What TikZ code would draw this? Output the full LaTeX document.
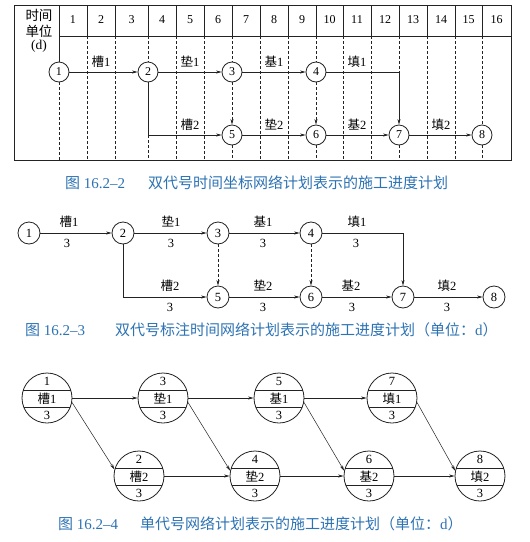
\documentclass[tikz,border=0pt]{standalone}
\usepackage{fontspec}
\setmainfont{Liberation Serif}
\newfontfamily\cjk{Noto Sans CJK SC}
\usetikzlibrary{arrows.meta,calc}
\newcommand\zh[1]{{\cjk #1}}
\definecolor{capblue}{RGB}{45,115,180}
\definecolor{ink}{RGB}{35,35,35}
\tikzset{
  ev/.style={circle,draw=ink,line width=0.8pt,minimum size=20pt,inner sep=0pt,font=\fontsize{12}{12}\selectfont},
  mev/.style={circle,draw=ink,line width=0.8pt,minimum size=22pt,inner sep=0pt,font=\fontsize{12.5}{12.5}\selectfont},
  opc/.style={circle,draw=ink,line width=0.8pt,minimum size=50pt,inner sep=0pt},
  chord/.style={draw=ink,line width=0.6pt},
  optxt/.style={inner sep=0pt,font=\fontsize{12.5}{12.5}\selectfont},
  arr/.style={draw=ink,line width=0.5pt,-{Stealth[length=5.5pt,width=3pt]}},
  pln/.style={draw=ink,line width=0.5pt},
  dsh/.style={draw=ink,line width=0.5pt,dash pattern=on 3pt off 2pt},
  lbl/.style={inner sep=0pt,font=\fontsize{12.5}{12.5}\selectfont},
  hdr/.style={inner sep=0pt,font=\fontsize{13.5}{13.5}\selectfont},
  hnum/.style={inner sep=0pt,font=\fontsize{12}{12}\selectfont},
  captxt/.style={inner sep=0pt,anchor=west,text=capblue,font=\fontsize{15}{15}\selectfont},
}
\newcommand\opnode[6]{%
  \node[opc] (#1) at (#2,#3) {};
  \draw[chord] ($(#1.center)+(-23.7,-8)$) -- ($(#1.center)+(23.7,-8)$);
  \draw[chord] ($(#1.center)+(-23.1,9.5)$) -- ($(#1.center)+(23.1,9.5)$);
  \node[optxt] (#1-t) at ($(#1.center)+(0,-17)$) {#4};
  \node[optxt] (#1-m) at ($(#1.center)+(0,1)$) {#5};
  \node[optxt] (#1-b) at ($(#1.center)+(0,17)$) {#6};
}
\begin{document}
\begin{tikzpicture}[x=1pt,y=-1pt]
\useasboundingbox (0,0) rectangle (530,542);
\fill[white] (0,0) rectangle (530,542);

% ---------- Figure 16.2-2 : time-scaled grid ----------
\draw[draw=ink,line width=0.9pt] (14,5) rectangle (511,160);
\draw[pln] (59,36) -- (511,36);
\foreach \x in {59,87,115,148,176,204,232,260,288,316,343,371,399,427,455,482}
  \draw[pln] (\x,5) -- (\x,36);
\foreach \a/\b [count=\i] in {59/87,87/115,115/148,148/176,176/204,204/232,232/260,260/288,288/316,316/343,343/371,371/399,399/427,427/455,455/482,482/511}
  \node[hnum] (h\i) at ({(\a+\b)/2},20) {\i};
\node[hdr] (hd1) at (39,15) {\zh{时间}};
\node[hdr] (hd2) at (39,31) {\zh{单位}};
\node[hdr] (hd3) at (39,46) {(d)};
% plain dashed grid columns
\foreach \x in {87,115,176,204,260,288,343,371,427,455}
  \draw[dsh] (\x,36) -- (\x,160);
% event nodes
\node[ev] (t1) at (59,72) {1};
\node[ev] (t2) at (148,72) {2};
\node[ev] (t3) at (232,72) {3};
\node[ev] (t4) at (316,72) {4};
\node[ev] (t5) at (232,135) {5};
\node[ev] (t6) at (316,135) {6};
\node[ev] (t7) at (399,135) {7};
\node[ev] (t8) at (482,135) {8};
% grid lines through event columns
\draw[pln] (59,36) -- (t1.north);
\draw[dsh] (t1.south) -- (59,160);
\draw[dsh] (148,36) -- (t2.north);
\draw[dsh] (148,135) -- (148,160);
\draw[dsh] (232,36) -- (t3.north);
\draw[dsh] (t5.south) -- (232,160);
\draw[dsh] (316,36) -- (t4.north);
\draw[dsh] (t6.south) -- (316,160);
\draw[dsh] (399,36) -- (399,72);
\draw[dsh] (t7.south) -- (399,160);
\draw[dsh] (482,36) -- (t8.north);
\draw[dsh] (t8.south) -- (482,160);
% activities
\draw[arr] (t1) -- (t2);
\draw[arr] (t2) -- (t3);
\draw[arr] (t3) -- (t4);
\draw[arr] (t4) -| (t7);
\draw[arr] (t2) |- (t5);
\draw[arr,dash pattern=on 3pt off 2pt] (t3) -- (t5);
\draw[arr,dash pattern=on 3pt off 2pt] (t4) -- (t6);
\draw[arr] (t5) -- (t6);
\draw[arr] (t6) -- (t7);
\draw[arr] (t7) -- (t8);
\node[lbl] (tl1) at (101,62) {\zh{槽}1};
\node[lbl] (tl2) at (190,62) {\zh{垫}1};
\node[lbl] (tl3) at (274,62) {\zh{基}1};
\node[lbl] (tl4) at (357,62) {\zh{填}1};
\node[lbl] (tl5) at (190,125) {\zh{槽}2};
\node[lbl] (tl6) at (274,125) {\zh{垫}2};
\node[lbl] (tl7) at (357,125) {\zh{基}2};
\node[lbl] (tl8) at (441,125) {\zh{填}2};

\node[captxt] (c1a) at (65,183) {\zh{图} 16.2–2};
\node[captxt] (c1b) at (148,183) {\zh{双代号时间坐标网络计划表示的施工进度计划}};

% ---------- Figure 16.2-3 ----------
\node[mev] (m1) at (29,233) {1};
\node[mev] (m2) at (123,233) {2};
\node[mev] (m3) at (218,233) {3};
\node[mev] (m4) at (311,233) {4};
\node[mev] (m5) at (218,297) {5};
\node[mev] (m6) at (311,297) {6};
\node[mev] (m7) at (403,297) {7};
\node[mev] (m8) at (494,297) {8};
\draw[arr] (m1) -- (m2);
\draw[arr] (m2) -- (m3);
\draw[arr] (m3) -- (m4);
\draw[arr] (m4) -| (m7);
\draw[arr] (m2) |- (m5);
\draw[arr,dash pattern=on 3pt off 2pt] (m3) -- (m5);
\draw[arr,dash pattern=on 3pt off 2pt] (m4) -- (m6);
\draw[arr] (m5) -- (m6);
\draw[arr] (m6) -- (m7);
\draw[arr] (m7) -- (m8);
\node[lbl] (ml1) at (69,222) {\zh{槽}1};  \node[lbl] (md1) at (67,243) {3};
\node[lbl] (ml2) at (171,222) {\zh{垫}1}; \node[lbl] (md2) at (171,243) {3};
\node[lbl] (ml3) at (263,222) {\zh{基}1}; \node[lbl] (md3) at (263,243) {3};
\node[lbl] (ml4) at (357,222) {\zh{填}1}; \node[lbl] (md4) at (356,243) {3};
\node[lbl] (ml5) at (170,286) {\zh{槽}2}; \node[lbl] (md5) at (170,307) {3};
\node[lbl] (ml6) at (263,286) {\zh{垫}2}; \node[lbl] (md6) at (263,307) {3};
\node[lbl] (ml7) at (351,286) {\zh{基}2}; \node[lbl] (md7) at (352,307) {3};
\node[lbl] (ml8) at (447,286) {\zh{填}2}; \node[lbl] (md8) at (447,307) {3};

\node[captxt] (c2a) at (25,330) {\zh{图} 16.2–3};
\node[captxt] (c2b) at (115,330) {\zh{双代号标注时间网络计划表示的施工进度计划（单位：}d\zh{）}};

% ---------- Figure 16.2-4 ----------
\opnode{n1}{47}{398}{1}{\zh{槽}1}{3}
\opnode{n3}{163}{398}{3}{\zh{垫}1}{3}
\opnode{n5}{279}{398}{5}{\zh{基}1}{3}
\opnode{n7}{392}{398}{7}{\zh{填}1}{3}
\opnode{n2}{139}{476}{2}{\zh{槽}2}{3}
\opnode{n4}{255}{476}{4}{\zh{垫}2}{3}
\opnode{n6}{369}{476}{6}{\zh{基}2}{3}
\opnode{n8}{480}{476}{8}{\zh{填}2}{3}
\draw[arr] (n1) -- (n3);
\draw[arr] (n3) -- (n5);
\draw[arr] (n5) -- (n7);
\draw[arr] (n2) -- (n4);
\draw[arr] (n4) -- (n6);
\draw[arr] (n6) -- (n8);
\draw[arr] (n1.-10) -- (n2.165);
\draw[arr] (n3.-10) -- (n4.168);
\draw[arr] (n5.-10) -- (n6.168);
\draw[arr] (n7.-10) -- (n8.168);

\node[captxt] (c3a) at (58,524) {\zh{图} 16.2–4};
\node[captxt] (c3b) at (140,524) {\zh{单代号网络计划表示的施工进度计划（单位：}d\zh{）}};
\end{tikzpicture}
\end{document}
